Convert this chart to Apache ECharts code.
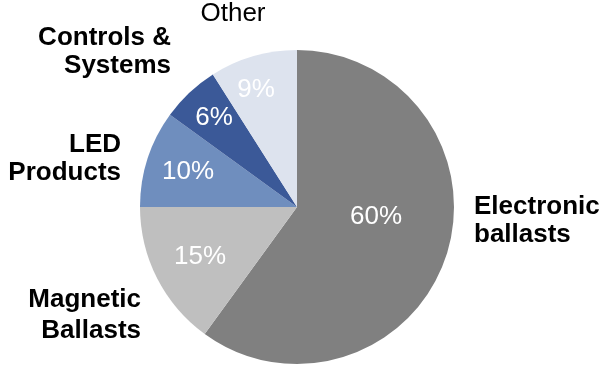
<!DOCTYPE html>
<html>
<head>
<meta charset="utf-8">
<script src="https://cdn.jsdelivr.net/npm/echarts@6/dist/echarts.min.js"></script>
<style>
html,body{margin:0;padding:0;background:#fff;}
#c{width:604px;height:366px;}
</style>
</head>
<body>
<div id="c"></div>
<script>
// Data
const categories = ['Electronic\nballasts', 'Magnetic\nBallasts', 'LED\nProducts', 'Controls &\nSystems', 'Other'];
const shares = [60, 15, 10, 6, 9];
const sliceColors = ['#808080', '#bfbfbf', '#6f8ebe', '#3b5998', '#dde3ee'];

// Label placement (styling)
const namePos = [
  {x: 474, y: 221, align: 'left', lh: 28},
  {x: 141, y: 315, align: 'right', lh: 31},
  {x: 121, y: 159, align: 'right', lh: 28},
  {x: 171, y: 52, align: 'right', lh: 28},
  {x: 233, y: 14, align: 'center', lh: 28}
];
const pctPos = [[376, 217], [200, 257], [188, 172], [214, 118], [256, 90]];

const font = '"Liberation Sans", Arial, Helvetica, sans-serif';
const center = [297, 207];
const radius = 157;

const chart = echarts.init(document.getElementById('c'), null, {renderer: 'canvas'});

const nameData = categories.map((n, i) => ({
  name: n,
  value: shares[i],
  itemStyle: {color: sliceColors[i]},
  label: Object.assign({lineHeight: namePos[i].lh}, i === 4 ? {fontWeight: 'normal'} : {})
}));
const pctData = categories.map((n, i) => ({name: n, value: shares[i]}));

chart.setOption({
  animation: false,
  backgroundColor: '#fff',
  series: [
    {
      type: 'pie',
      center: center,
      radius: radius,
      startAngle: 90,
      clockwise: true,
      avoidLabelOverlap: false,
      silent: true,
      itemStyle: {borderWidth: 0},
      label: {
        show: true,
        position: 'outside',
        formatter: '{b}',
        color: '#000',
        fontFamily: font,
        fontSize: 26,
        fontWeight: 'bold',
        lineHeight: 28
      },
      labelLine: {show: false},
      labelLayout: function (p) {
        const s = namePos[p.dataIndex];
        return {x: s.x, y: s.y, align: s.align, verticalAlign: 'middle'};
      },
      data: nameData
    },
    {
      type: 'pie',
      center: center,
      radius: radius,
      startAngle: 90,
      clockwise: true,
      silent: true,
      itemStyle: {color: 'rgba(0,0,0,0)', borderWidth: 0},
      label: {
        show: true,
        position: 'inside',
        formatter: '{c}%',
        color: '#fff',
        fontFamily: font,
        fontSize: 26,
        textBorderWidth: 0
      },
      labelLine: {show: false},
      labelLayout: function (p) {
        const s = pctPos[p.dataIndex];
        return {x: s[0], y: s[1], align: 'center', verticalAlign: 'middle'};
      },
      data: pctData
    }
  ]
});
</script>
</body>
</html>
